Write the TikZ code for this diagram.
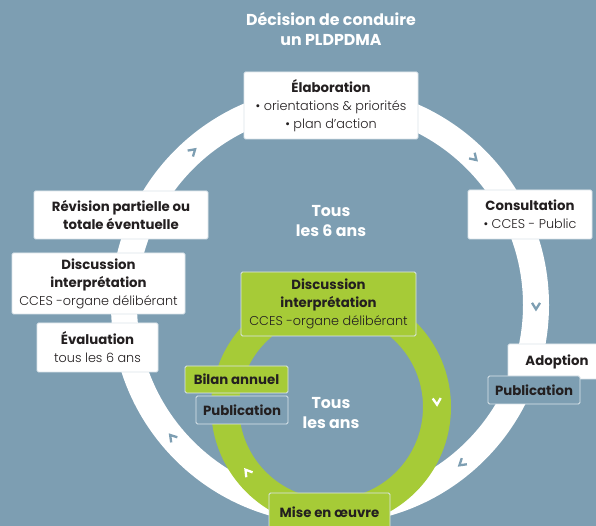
\documentclass[tikz,border=0pt]{standalone}
\usepackage{fontspec}
\setmainfont{Poppins}[UprightFont=* Light, BoldFont=* Bold]
\definecolor{fond_bleu}{HTML}{7D9EB2}
\definecolor{vert_cycle}{HTML}{A6CB37}
\definecolor{texte_fonce}{HTML}{231F20}
\definecolor{bord_clair}{HTML}{DCE5EB}
\newcommand{\gras}{\bfseries\fontsize{13.3}{18}\selectfont}

\begin{document}
\begin{tikzpicture}[x=1pt, y=1pt]
        \tikzset{
            etape/.style={
                draw=bord_clair,
                fill=#1,
                rounded corners=1.5pt,
                line width=0.8pt,
                align=center,
                inner sep=0pt,
                text=texte_fonce,
                font=\fontsize{12.8}{18}\selectfont
            },
            chevron/.style={
                draw=#1,
                line width=2.3pt,
                line join=miter
            },
            libelle/.style={
                text=white,
                align=center,
                font=\bfseries\fontsize{15.8}{20}\selectfont
            }
        }
        \useasboundingbox (0,0) rectangle (596,526);
        \clip (0,0) rectangle (596,526);
        \fill[fond_bleu] (0,0) rectangle (596,526);

        % anneaux
        \draw[white, line width=26pt] (330,221) circle (206);
        \draw[vert_cycle, line width=28pt] (331,119) circle (106);

        % chevrons du grand cycle
        \foreach \a in {131.8, 45.6, -0.3, -50.2, -140}
            \draw[chevron=fond_bleu, shift={(330,221)}, rotate=\a] (202,3.2) -- (206,-3.2) -- (210,3.2);
        % chevrons du cycle annuel
        \foreach \a in {3, -142}
            \draw[chevron=white, shift={(331,119)}, rotate=\a] (102,3.2) -- (106,-3.2) -- (110,3.2);

        % titre et durees
        \node[libelle] (titre) at (331,497) {Décision de conduire\\un PLDPDMA};
        \node[libelle] (six_ans) at (331,305) {Tous\\les 6 ans};
        \node[libelle] (un_an) at (331,113) {Tous\\les ans};

        % etapes
        \node[etape=white, minimum width=174, minimum height=67] (elab) at (331,420.5)
            {{\gras Élaboration}\\• orientations \& priorités\\• plan d’action};
        \node[etape=white, minimum width=124, minimum height=49] (consult) at (530,311.5)
            {{\gras Consultation}\\• CCES - Public};
        \node[etape=white, minimum width=98, minimum height=35] (adopt) at (557,164.5)
            {\gras Adoption};
        \node[etape=fond_bleu, minimum width=92, minimum height=28] (pub_droite) at (534,136)
            {\gras Publication};
        \node[etape=white, minimum width=174, minimum height=48] (revis) at (121,311)
            {{\gras Révision partielle ou}\\{\gras totale éventuelle}};
        \node[etape=white, minimum width=173, minimum height=61] (disc_gauche) at (98.5,242.5)
            {{\gras Discussion}\\{\gras interprétation}\\CCES -organe délibérant};
        \node[etape=white, minimum width=121, minimum height=49] (evalu) at (97.5,178.5)
            {{\gras Évaluation}\\tous les 6 ans};

        \node[etape=vert_cycle, minimum width=175, minimum height=64] (disc_vert) at (328.5,222)
            {{\gras Discussion}\\{\gras interprétation}\\CCES -organe délibérant};
        \node[etape=vert_cycle, minimum width=103, minimum height=27] (bilan) at (236.5,146.5)
            {\gras Bilan annuel};
        \node[etape=fond_bleu, minimum width=92, minimum height=28] (pub_gauche) at (242,116)
            {\gras Publication};
        \node[etape=vert_cycle, minimum width=121, minimum height=38] (mise) at (329.5,14)
            {\gras Mise en œuvre};

    \end{tikzpicture}
\end{document}
